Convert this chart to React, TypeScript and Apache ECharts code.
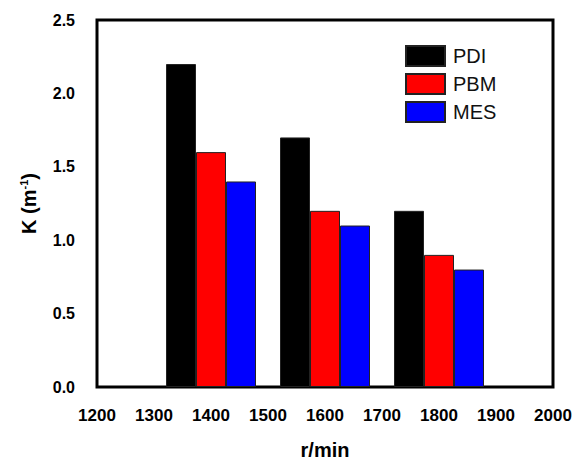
import React, { useEffect, useRef } from "react";
import * as echarts from "echarts";

const xTicks = ["1200", "1300", "1400", "1500", "1600", "1700", "1800", "1900", "2000"];
const speeds = ["1400", "1600", "1800"];
const pdi = [2.2, 1.7, 1.2];
const pbm = [1.6, 1.2, 0.9];
const mes = [1.4, 1.1, 0.8];

const FONT = "'Liberation Sans', Arial, sans-serif";

function align(values: number[]) {
  return xTicks.map((t) => {
    const i = speeds.indexOf(t);
    return i >= 0 ? values[i] : null;
  });
}

export default function App() {
  const ref = useRef<HTMLDivElement>(null);
  useEffect(() => {
    document.body.style.margin = "0";
    document.body.style.overflow = "hidden";
    const chart = echarts.init(ref.current!, null, { renderer: "svg" });
    const barBase = { type: "bar", barWidth: 30, barGap: "0%" };
    chart.setOption({
      animation: false,
      textStyle: { fontFamily: FONT },
      grid: {
        left: 97,
        top: 20,
        right: 19,
        bottom: 76,
        show: true,
        borderColor: "#000",
        borderWidth: 3,
        containLabel: false,
        outerBoundsMode: "none",
      },
      legend: {
        orient: "vertical",
        left: 400,
        top: 40,
        itemWidth: 39,
        itemHeight: 20,
        itemGap: 6,
        icon: "rect",
        textStyle: { fontSize: 20, color: "#111", fontFamily: FONT, padding: [0, 0, 0, 3] },
        data: ["PDI", "PBM", "MES"],
      },
      xAxis: {
        type: "category",
        data: xTicks,
        boundaryGap: false,
        axisLine: { show: false },
        axisTick: { show: false },
        splitLine: { show: false },
        axisLabel: { fontSize: 17, fontWeight: "bold", color: "#000", margin: 20, fontFamily: FONT, interval: 0 },
        name: "r/min",
        nameLocation: "middle",
        nameGap: 53,
        nameTextStyle: { fontSize: 20, lineHeight: 20, fontWeight: "bold", color: "#000", fontFamily: FONT },
      },
      yAxis: {
        type: "value",
        min: 0,
        max: 2.5,
        interval: 0.5,
        axisLine: { show: false },
        axisTick: { show: false },
        splitLine: { show: false },
        axisLabel: {
          fontSize: 16,
          fontWeight: "bold",
          color: "#000",
          margin: 22,
          fontFamily: FONT,
          formatter: (v: number) => v.toFixed(1),
        },
        name: "{a|K (m}{s|-1}{a|)}",
        nameLocation: "middle",
        nameGap: 58,
        nameTextStyle: {
          rich: {
            a: { fontSize: 20, fontWeight: "bold", color: "#000", fontFamily: FONT },
            s: { fontSize: 11, fontWeight: "bold", color: "#000", fontFamily: FONT, verticalAlign: "top", padding: [0, 0, 10, 0] },
          },
        },
      },
      series: [
        { ...barBase, name: "PDI", data: align(pdi), itemStyle: { color: "#000000", borderColor: "#222", borderWidth: 1 } },
        { ...barBase, name: "PBM", data: align(pbm), itemStyle: { color: "#ff0000", borderColor: "#222", borderWidth: 1 } },
        { ...barBase, name: "MES", data: align(mes), itemStyle: { color: "#0000ff", borderColor: "#222", borderWidth: 1 } },
      ],
    });
    return () => chart.dispose();
  }, []);
  return (
    <div style={{ width: 572, height: 463, overflow: "hidden", position: "relative" }}>
      <div ref={ref} style={{ width: 572, height: 463 }} />
    </div>
  );
}
